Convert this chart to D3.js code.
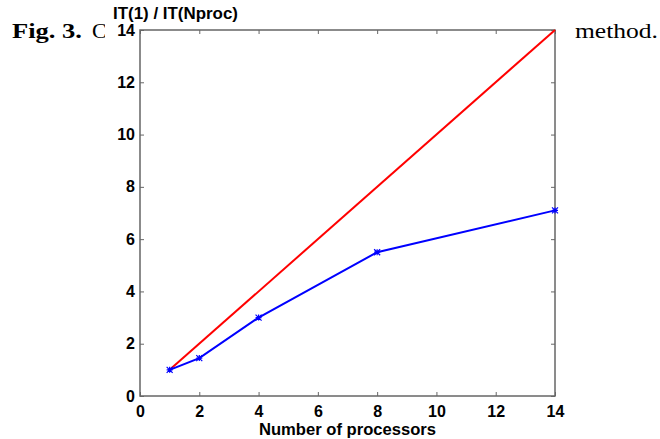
<!DOCTYPE html>
<html><head><meta charset="utf-8">
<script src="https://cdn.jsdelivr.net/npm/d3@7"></script>
<style>body{margin:0;background:#fff;}svg{display:block;}</style>
</head><body>
<svg id="c" width="660" height="439"></svg>
<script>
const processors = [1, 2, 4, 8, 14];
const measuredSpeedup = [1, 1.45, 3, 5.5, 7.1];
const idealProcessors = [1, 14];
const idealSpeedup = [1, 14];
const xTicks = [0, 2, 4, 6, 8, 10, 12, 14];
const yTicks = [0, 2, 4, 6, 8, 10, 12, 14];

const svg = d3.select("#c");
const L = 140, R = 555, T = 30, B = 396;
const x = d3.scaleLinear().domain([0, 14]).range([L, R]);
const y = d3.scaleLinear().domain([0, 14]).range([B, T]);

const serif = "'Liberation Serif', 'DejaVu Serif', serif";
// caption behind chart
svg.append("text").attr("x", 12).attr("y", 38)
  .attr("font-family", serif).attr("font-size", 22)
  .attr("font-weight", "bold").attr("fill", "#000")
  .attr("textLength", 70).attr("lengthAdjust", "spacingAndGlyphs").text("Fig. 3.");
svg.append("text").attr("x", 92).attr("y", 38)
  .attr("font-family", serif).attr("font-size", 22)
  .attr("fill", "#000").text("C");
svg.append("text").attr("x", 575).attr("y", 38)
  .attr("font-family", serif).attr("font-size", 22)
  .attr("fill", "#000").attr("textLength", 83).attr("lengthAdjust", "spacingAndGlyphs").text("method.");
svg.append("rect").attr("x", 105).attr("y", 0).attr("width", 464).attr("height", 439).attr("fill", "#fff");

const axisColor = "#666";
const fnt = "'Liberation Sans', Arial, sans-serif";

// box
svg.append("rect").attr("x", L).attr("y", T).attr("width", R - L).attr("height", B - T)
  .attr("fill", "none").attr("stroke", axisColor).attr("stroke-width", 1.5);

function styleAxis(g) {
  g.select(".domain").remove();
  g.selectAll(".tick line").attr("stroke", axisColor).attr("stroke-width", 1);
  g.selectAll(".tick text").attr("font-family", fnt).attr("font-size", 16)
    .attr("font-weight", "bold").attr("fill", "#000");
}
svg.append("g").attr("transform", `translate(0,${B})`)
  .call(d3.axisBottom(x).tickValues(xTicks).tickSize(-4).tickPadding(7).tickFormat(d3.format("d")))
  .call(styleAxis).call(g => g.selectAll(".tick text").attr("dy", "0.85em"));
svg.append("g").attr("transform", `translate(0,${T})`)
  .call(d3.axisTop(x).tickValues(xTicks).tickSize(-4).tickFormat(""))
  .call(styleAxis);
svg.append("g").attr("transform", `translate(${L},0)`)
  .call(d3.axisLeft(y).tickValues(yTicks).tickSize(-4).tickPadding(5).tickFormat(d3.format("d")))
  .call(styleAxis);
svg.append("g").attr("transform", `translate(${R},0)`)
  .call(d3.axisRight(y).tickValues(yTicks).tickSize(-4).tickFormat(""))
  .call(styleAxis);

// labels
svg.append("text").attr("x", 113).attr("y", 19).attr("font-family", fnt)
  .attr("font-size", 17).attr("font-weight", "bold")
  .attr("textLength", 125).attr("lengthAdjust", "spacingAndGlyphs").text("IT(1) / IT(Nproc)");
svg.append("text").attr("x", 259).attr("y", 435)
  .attr("font-family", fnt).attr("font-size", 16.5).attr("font-weight", "bold")
  .attr("textLength", 177).attr("lengthAdjust", "spacingAndGlyphs").text("Number of processors");

const line = d3.line().x(d => x(d[0])).y(d => y(d[1]));
const ideal = idealProcessors.map((p, i) => [p, idealSpeedup[i]]);
const meas = processors.map((p, i) => [p, measuredSpeedup[i]]);

svg.append("path").datum(ideal).attr("d", line).attr("fill", "none")
  .attr("stroke", "#ff0000").attr("stroke-width", 2);
svg.append("path").datum(meas).attr("d", line).attr("fill", "none")
  .attr("stroke", "#0000ff").attr("stroke-width", 2);

function star(sel, color) {
  const s = 3;
  sel.append("path").attr("d", `M${-s},${-s}L${s},${s}M${-s},${s}L${s},${-s}M0,${-s}L0,${s}M${-s},0L${s},0`)
    .attr("stroke", color).attr("stroke-width", 1.2).attr("fill", "none");
}
svg.append("g").selectAll("g").data(meas).join("g")
  .attr("transform", d => `translate(${x(d[0])},${y(d[1])})`).call(star, "#0000ff");
</script>
</body></html>
